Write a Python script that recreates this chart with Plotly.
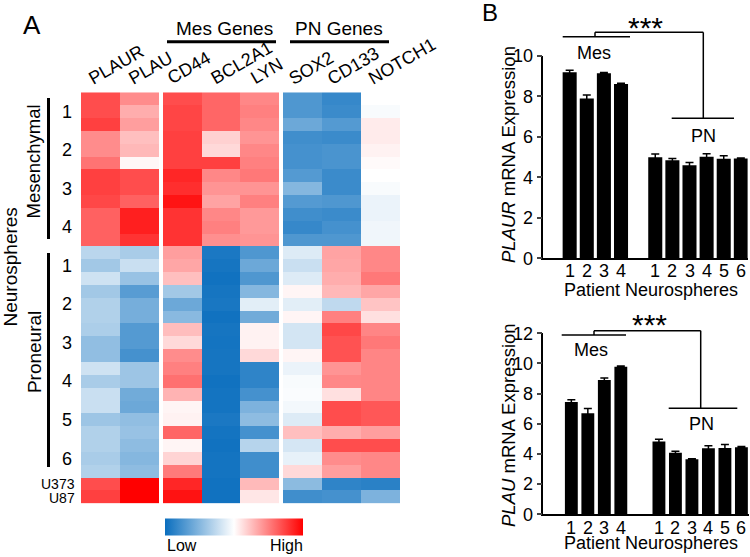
import plotly.graph_objects as go

W, H = 750, 557
FONT = "Liberation Sans, Arial, sans-serif"

def px(x):
    return x / W

def py(y):
    return 1 - y / H

# ---------------- Heatmap data (relative expression, -1 = low, 1 = high) ----------------
row_labels = ([f"Mes{p}-{r}" for p in range(1, 5) for r in range(1, 4)] +
              [f"PN{p}-{r}" for p in range(1, 7) for r in range(1, 4)] + ["U373", "U87"])

PLAUR = [0.70, 0.70, 0.75, 0.45, 0.45, 0.55, 0.75, 0.75, 0.72, 0.62, 0.62, 0.62,
         -0.28, -0.38, -0.20, -0.38, -0.32, -0.32, -0.34, -0.45, -0.45, -0.20, -0.35, -0.22,
         -0.22, -0.40, -0.32, -0.32, -0.35, -0.32, 0.70, 0.75]
PLAU = [0.45, 0.32, 0.38, 0.25, 0.28, 0.03, 0.70, 0.70, 0.62, 0.88, 0.88, 0.80,
        -0.35, -0.22, -0.42, -0.68, -0.56, -0.56, -0.70, -0.70, -0.76, -0.40, -0.40, -0.58,
        -0.60, -0.45, -0.42, -0.46, -0.50, -0.46, 1.00, 1.00]
CD44 = [0.70, 0.73, 0.73, 0.75, 0.75, 0.75, 0.85, 0.82, 0.92, 0.80, 0.80, 0.80,
        0.38, 0.35, 0.25, -0.38, -0.60, -0.48, 0.26, 0.15, 0.45, 0.50, 0.56, 0.30,
        0.04, 0.05, 0.60, 0.04, 0.17, 0.52, 0.85, 0.93]
BCL2A1 = [0.60, 0.60, 0.60, 0.18, 0.15, 0.75, 0.47, 0.42, 0.36, 0.47, 0.50, 0.44,
          -0.93, -0.95, -0.97, -0.95, -0.94, -0.97, -0.95, -0.96, -0.95, -0.95, -0.97, -0.96,
          -0.96, -0.93, -0.96, -0.97, -0.96, -0.96, -0.97, -0.97]
LYN = [0.47, 0.50, 0.47, 0.42, 0.47, 0.50, 0.53, 0.42, 0.50, 0.40, 0.40, 0.42,
       -0.72, -0.60, -0.72, -0.50, -0.12, -0.58, 0.05, 0.05, 0.15, -0.85, -0.85, -0.76,
       -0.53, -0.46, -0.76, -0.30, -0.78, -0.78, 0.27, 0.10]
SOX2 = [-0.72, -0.72, -0.60, -0.78, -0.76, -0.76, -0.70, -0.50, -0.70, -0.78, -0.82, -0.72,
        -0.14, -0.22, -0.14, 0.04, -0.12, 0.04, -0.18, -0.18, 0.04, -0.08, -0.03, -0.02,
        -0.05, -0.14, 0.25, -0.17, -0.10, 0.15, -0.47, -0.78]
CD133 = [-0.82, -0.80, -0.70, -0.80, -0.74, -0.74, -0.80, -0.80, -0.72, -0.80, -0.76, -0.72,
         0.36, 0.35, 0.32, 0.28, -0.26, 0.50, 0.72, 0.68, 0.68, 0.42, 0.47, 0.12,
         0.70, 0.70, 0.32, 0.70, 0.45, 0.38, -0.85, -0.76]
NOTCH1 = [0.00, -0.03, 0.08, 0.08, 0.05, 0.02, 0.00, -0.03, -0.08, -0.08, -0.06, -0.06,
          0.47, 0.47, 0.53, 0.35, 0.23, 0.12, 0.48, 0.53, 0.48, 0.48, 0.48, 0.48,
          0.66, 0.66, 0.38, 0.70, 0.47, 0.47, -0.87, -0.53]

gene_groups = [
    (["PLAUR", "PLAU"], [PLAUR, PLAU]),
    (["CD44", "BCL2A1", "LYN"], [CD44, BCL2A1, LYN]),
    (["SOX2", "CD133", "NOTCH1"], [SOX2, CD133, NOTCH1]),
]

# ---------------- Bar chart data ----------------
mes_labels = ["1", "2", "3", "4"]
pn_labels = ["1", "2", "3", "4", "5", "6"]
PLAUR_mes = [9.20, 7.90, 9.15, 8.62]
PLAUR_mes_err = [0.10, 0.17, 0.04, 0.03]
PLAUR_pn = [5.00, 4.85, 4.60, 5.02, 4.92, 4.93]
PLAUR_pn_err = [0.15, 0.08, 0.14, 0.15, 0.15, 0.03]
PLAU_mes = [7.45, 6.70, 8.90, 9.78]
PLAU_mes_err = [0.15, 0.32, 0.13, 0.05]
PLAU_pn = [4.82, 4.08, 3.65, 4.38, 4.40, 4.45]
PLAU_pn_err = [0.15, 0.10, 0.04, 0.16, 0.22, 0.04]

colorscale = [[0.0, "#0A6EBE"], [0.5, "#FFFFFF"], [1.0, "#FF0000"]]

fig = go.Figure()

# heatmap geometry
col_domains = [(81, 159), (163, 279.3), (283, 400)]
hm_top, hm_bot = 92.3, 503.5
rows = list(range(len(row_labels)))

for gi, (genes, cols) in enumerate(gene_groups):
    z = [[c[i] for c in cols] for i in rows]
    fig.add_trace(go.Heatmap(
        z=z, x=genes, y=rows, zmin=-1, zmax=1, colorscale=colorscale,
        xaxis="x" if gi == 0 else f"x{gi+1}", yaxis="y",
        showscale=(gi == 0),
        colorbar=dict(orientation="h", x=px(234), xanchor="center", y=py(526.7), yanchor="middle",
                      len=138, lenmode="pixels", thickness=17, showticklabels=False, ticks="",
                      outlinewidth=0, xpad=0, ypad=0),
        hoverinfo="skip",
    ))

# bar charts
def bar_positions(gap_start):
    return [1, 2, 3, 4] + [gap_start + i for i in range(6)]

top_pos = bar_positions(6)
bot_pos = bar_positions(6.31)

fig.add_trace(go.Bar(x=top_pos, y=PLAUR_mes + PLAUR_pn, width=0.82, marker_color="black",
                     marker_line_width=0,
                     error_y=dict(type="data", array=PLAUR_mes_err + PLAUR_pn_err, color="black",
                                  thickness=1.5, width=4),
                     xaxis="x4", yaxis="y2", showlegend=False))
fig.add_trace(go.Bar(x=bot_pos, y=PLAU_mes + PLAU_pn, width=0.78, marker_color="black",
                     marker_line_width=0,
                     error_y=dict(type="data", array=PLAU_mes_err + PLAU_pn_err, color="black",
                                  thickness=1.5, width=4),
                     xaxis="x5", yaxis="y3", showlegend=False))

hidden = dict(showticklabels=False, showgrid=False, zeroline=False, ticks="", showline=False)
layout = dict(
    width=W, height=H, margin=dict(l=0, r=0, t=0, b=0, pad=0, autoexpand=False),
    paper_bgcolor="white", plot_bgcolor="white",
    font=dict(family=FONT, size=18, color="black"),
    showlegend=False,
    yaxis=dict(domain=[py(hm_bot), py(hm_top)], range=[31.5, -0.5], **hidden),
)
for gi, (x0, x1) in enumerate(col_domains):
    key = "xaxis" if gi == 0 else f"xaxis{gi+1}"
    layout[key] = dict(domain=[px(x0), px(x1)], anchor="y", type="category", **hidden)

axline = dict(showline=True, linecolor="black", linewidth=1.5, showgrid=False, zeroline=False,
              automargin=False)
layout["xaxis4"] = dict(domain=[px(543.3), px(747.7)], range=[-0.54, 11.4], anchor="y2",
                        showticklabels=False, ticks="", **axline)
layout["yaxis2"] = dict(domain=[py(258.3), py(56)], range=[0, 10], anchor="x4",
                        tickvals=[0, 2, 4, 6, 8, 10], ticks="outside", ticklen=5, tickwidth=1.5,
                        tickfont=dict(size=18), **axline)
layout["xaxis5"] = dict(domain=[px(543.3), px(749)], range=[-0.70, 11.77], anchor="y3",
                        showticklabels=False, ticks="", **axline)
layout["yaxis3"] = dict(domain=[py(514.3), py(333.3)], range=[0, 12], anchor="x5",
                        tickvals=[0, 2, 4, 6, 8, 10, 12], ticks="outside", ticklen=5, tickwidth=1.5,
                        tickfont=dict(size=18), **axline)
fig.update_layout(**layout)

ann = []
def text(x, y, t, size=18, xa="center", ya="middle", angle=0):
    ann.append(dict(x=px(x), y=py(y), xref="paper", yref="paper", text=t, showarrow=False,
                    font=dict(size=size, family=FONT, color="black"), xanchor=xa, yanchor=ya,
                    textangle=angle))

# category tick labels of the bar charts, placed on the axis scale
for pos, lab in zip(top_pos, mes_labels + pn_labels):
    ann.append(dict(x=pos, xref="x4", y=py(270.5), yref="paper", text=lab, showarrow=False,
                    font=dict(size=18, family=FONT, color="black"), xanchor="center", yanchor="middle"))
for pos, lab in zip(bot_pos, mes_labels + pn_labels):
    ann.append(dict(x=pos, xref="x5", y=py(527.5), yref="paper", text=lab, showarrow=False,
                    font=dict(size=18, family=FONT, color="black"), xanchor="center", yanchor="middle"))

text(32, 25, "A", 26)
text(490, 12, "B", 24)
text(224.7, 29, "Mes Genes", 19)
text(339, 29, "PN Genes", 19)

col_label_pos = [("PLAUR", 91), ("PLAU", 131.7), ("CD44", 170), ("BCL2A1", 213.3), ("LYN", 253.3),
                 ("SOX2", 291.7), ("CD133", 330), ("NOTCH1", 371.7)]
for name, lx in col_label_pos:
    text(lx - 9, 91, name, 18, xa="left", ya="bottom", angle=-30)

text(10, 267.5, "Neurospheres", 19, angle=-90)
text(33.8, 161.7, "Mesenchymal", 18.5, angle=-90)
text(33.8, 352.3, "Proneural", 19, angle=-90)

row_h = (hm_bot - hm_top) / len(row_labels)
for p in range(4):
    text(67, hm_top + (3 * p + 1.5) * row_h, str(p + 1), 18)
for p in range(6):
    text(67, hm_top + (12 + 3 * p + 1.5) * row_h, str(p + 1), 18)
text(77, 484, "U373", 14, xa="right")
text(77, 498, "U87", 14, xa="right")

text(165, 545.7, "Low", 16, xa="left")
text(305, 545.7, "High", 16, xa="right")

# bar chart labels
text(508, 155, "<i>PLAUR</i> mRNA Expression", 18.5, angle=-90)
text(508, 425, "<i>PLAU</i> mRNA Expression", 18.5, angle=-90)
text(650.5, 290, "Patient Neurospheres", 18)
text(650.5, 542.5, "Patient Neurospheres", 18)
text(645.8, 27, "***", 30)
text(649, 324, "***", 30)
text(594, 52.7, "Mes", 18)
text(703.5, 136, "PN", 18)
text(590.8, 350, "Mes", 18)
text(701.7, 424.3, "PN", 18)

fig.update_layout(annotations=ann)

shapes = []
def line(x0, y0, x1, y1, w=2):
    shapes.append(dict(type="line", xref="paper", yref="paper", x0=px(x0), y0=py(y0),
                       x1=px(x1), y1=py(y1), line=dict(color="black", width=w)))

line(167, 41.7, 276, 41.7, 3)
line(290, 41.7, 389, 41.7, 3)
line(48.5, 98, 48.5, 239, 3)
line(48.5, 253, 48.5, 467, 3)

# significance brackets
line(562.7, 36.7, 630, 36.7, 1.5)
line(595, 36.7, 595, 32.3, 1.5)
line(595, 32.3, 703.3, 32.3, 1.5)
line(703.3, 32.3, 703.3, 118.3, 1.5)
line(671.7, 118.3, 734, 118.3, 1.5)

line(561.7, 335, 626, 335, 1.5)
line(594, 335, 594, 330.7, 1.5)
line(594, 330.7, 700.7, 330.7, 1.5)
line(700.7, 330.7, 700.7, 408.3, 1.5)
line(668.7, 408.3, 737.3, 408.3, 1.5)

fig.update_layout(shapes=shapes)
fig.write_html("out.html", config={"displayModeBar": False},
               post_script="document.body.style.margin='0px';")
